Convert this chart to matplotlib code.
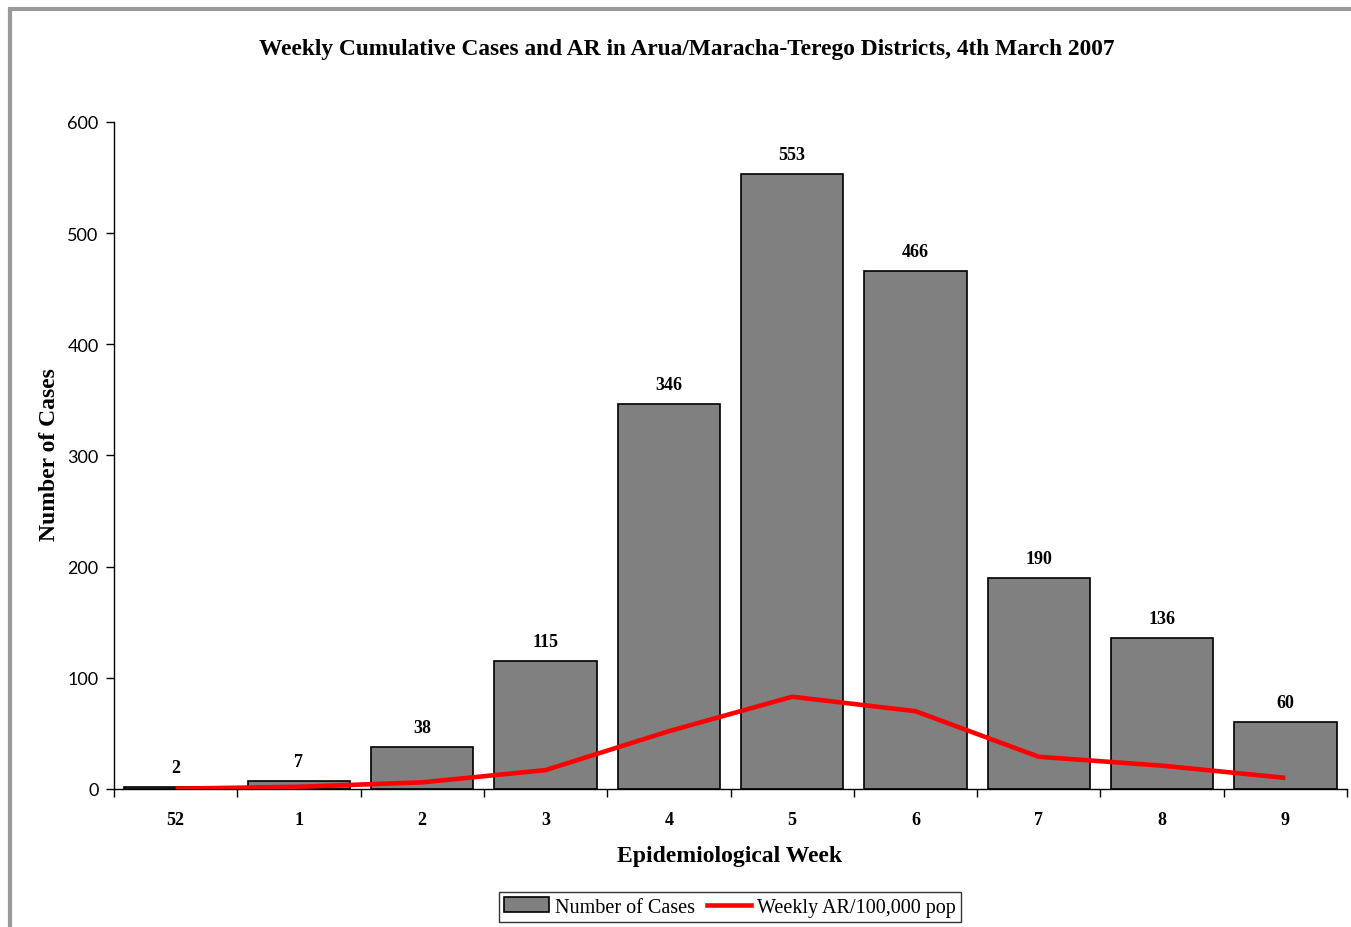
import matplotlib
matplotlib.use('Agg')
import matplotlib.pyplot as plt
from matplotlib.patches import Rectangle, Patch
from matplotlib.lines import Line2D
import numpy as np

weeks = ['52', '1', '2', '3', '4', '5', '6', '7', '8', '9']
cases = [2, 7, 38, 115, 346, 553, 466, 190, 136, 60]
ar_rate = [0.3, 2, 6, 17, 52, 83, 70, 29, 21, 10]

plt.rcParams['font.family'] = ['Liberation Serif', 'DejaVu Serif']

fig = plt.figure(figsize=(13.51, 9.28), dpi=100)
ax = fig.add_axes([114 / 1351, 1 - 790 / 928, 1233 / 1351, 667 / 928])

x = np.arange(len(weeks))
ax.bar(x, cases, width=0.83, color='#808080', edgecolor='black', linewidth=1.2, zorder=2)
ax.plot(x, ar_rate, color='#ff0000', linewidth=3.3, zorder=3, solid_capstyle='butt')

# value labels over the bars
for xi, v in zip(x, cases):
    ax.text(xi, v + 10, str(v), ha='center', va='bottom', fontsize=13, fontweight='bold')

ax.set_xlim(-0.5, len(weeks) - 0.5)
ax.set_ylim(0, 600)
ax.set_yticks(range(0, 601, 100))
ax.tick_params(axis='y', labelsize=13, length=6, width=1, direction='out', pad=5)
for lab in ax.get_yticklabels():
    lab.set_family(['Lato', 'DejaVu Sans'])
ax.set_xticks(x)
ax.set_xticklabels(weeks, fontsize=13, fontweight='bold')
ax.tick_params(axis='x', which='major', length=0, pad=16)
ax.set_xticks(np.arange(-0.5, len(weeks), 1), minor=True)
ax.tick_params(axis='x', which='minor', length=6, width=1, direction='out')

for s in ['top', 'right']:
    ax.spines[s].set_visible(False)
ax.spines['left'].set_linewidth(1)
ax.spines['bottom'].set_linewidth(1)

fig.text(687 / 1351, 1 - 50 / 928, 'Weekly Cumulative Cases and AR in Arua/Maracha-Terego Districts, 4th March 2007',
         ha='center', va='center', fontsize=16.8, fontweight='bold')
fig.text(50 / 1351, 1 - 455 / 928, 'Number of Cases', rotation=90, ha='center', va='center',
         fontsize=17, fontweight='bold')
fig.text(730 / 1351, 1 - 857 / 928, 'Epidemiological Week', ha='center', va='center',
         fontsize=17, fontweight='bold')

handles = [Patch(facecolor='#808080', edgecolor='black', linewidth=1.2),
           Line2D([0], [0], color='#ff0000', linewidth=3.3)]
fig.legend(handles, ['Number of Cases', 'Weekly AR/100,000 pop'], loc='center',
           bbox_to_anchor=(730 / 1351, 1 - 908 / 928), ncol=2, fontsize=14.5, frameon=True,
           fancybox=False, edgecolor='black', handlelength=2.2, handletextpad=0.3,
           columnspacing=0.6, borderpad=0.25, handleheight=0.7)

# grey frame around the chart area
fig.patches.append(Rectangle((10 / 1351, -0.1), 1.2, 1.1 - 10 / 928, transform=fig.transFigure,
                             fill=False, edgecolor='#9a9a9a', linewidth=3))

fig.savefig('out.png', dpi=100)
